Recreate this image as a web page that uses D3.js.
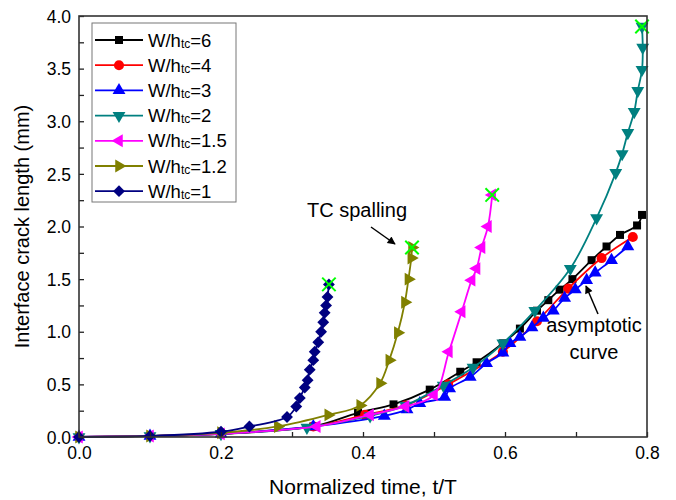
<!DOCTYPE html>
<html>
<head>
<meta charset="utf-8">
<script src="https://d3js.org/d3.v7.min.js"></script>
<style>
  body { margin: 0; background: #fff; }
  text { font-family: "Liberation Sans", Arial, sans-serif; fill: #000; }
</style>
</head>
<body>
<div id="chart"></div>
<script>

// data (t/T, crack length in mm)
var legendLabels = ["6", "4", "3", "2", "1.5", "1.2", "1"];

var timeW6  = [0, 0.1, 0.2, 0.33, 0.393, 0.443, 0.494, 0.537, 0.56, 0.597, 0.621, 0.645, 0.661, 0.677, 0.695, 0.722, 0.743, 0.762, 0.786, 0.793];
var crackW6 = [0, 0.01, 0.03, 0.1, 0.23, 0.31, 0.45, 0.62, 0.71, 0.89, 1.03, 1.2, 1.3, 1.4, 1.5, 1.68, 1.81, 1.92, 2.01, 2.11];

var timeW4  = [0, 0.1, 0.2, 0.33, 0.403, 0.46, 0.52, 0.597, 0.645, 0.689, 0.736, 0.78];
var crackW4 = [0, 0.01, 0.03, 0.1, 0.21, 0.3, 0.5, 0.81, 1.1, 1.41, 1.7, 1.9];

var timeW3  = [0, 0.1, 0.2, 0.33, 0.43, 0.462, 0.48, 0.515, 0.522, 0.551, 0.574, 0.597, 0.607, 0.621, 0.638, 0.654, 0.668, 0.684, 0.699, 0.715, 0.727, 0.75, 0.773];
var crackW3 = [0, 0.01, 0.03, 0.1, 0.2, 0.26, 0.32, 0.38, 0.46, 0.57, 0.7, 0.8, 0.89, 0.95, 1.04, 1.13, 1.2, 1.32, 1.4, 1.49, 1.56, 1.68, 1.81];

var timeW2  = [0, 0.1, 0.2, 0.321, 0.41, 0.46, 0.513, 0.555, 0.597, 0.642, 0.692, 0.729, 0.756, 0.765, 0.773, 0.782, 0.787, 0.793, 0.794, 0.793];
var crackW2 = [0, 0.01, 0.03, 0.09, 0.2, 0.3, 0.49, 0.66, 0.89, 1.2, 1.6, 2.08, 2.51, 2.69, 2.89, 3.09, 3.29, 3.49, 3.7, 3.9];

var timeW15  = [0, 0.1, 0.2, 0.335, 0.41, 0.46, 0.5, 0.521, 0.539, 0.553, 0.56, 0.567, 0.576, 0.582];
var crackW15 = [0, 0.01, 0.03, 0.1, 0.21, 0.29, 0.4, 0.81, 1.19, 1.49, 1.6, 1.8, 2.0, 2.3];

var timeW12  = [0, 0.1, 0.2, 0.28, 0.351, 0.396, 0.424, 0.437, 0.449, 0.459, 0.464, 0.468, 0.469];
var crackW12 = [0, 0.01, 0.04, 0.1, 0.21, 0.3, 0.51, 0.73, 0.99, 1.28, 1.5, 1.7, 1.8];

var timeW1  = [0, 0.1, 0.2, 0.24, 0.293, 0.306, 0.311, 0.318, 0.322, 0.325, 0.33, 0.332, 0.337, 0.341, 0.344, 0.346, 0.348, 0.35, 0.352];
var crackW1 = [0, 0.01, 0.05, 0.1, 0.19, 0.29, 0.37, 0.47, 0.54, 0.64, 0.73, 0.81, 0.9, 1.0, 1.09, 1.18, 1.25, 1.33, 1.45];

// spalling points (green crosses)
var spallTime  = [0.352, 0.469, 0.582, 0.793];
var spallCrack = [1.45, 1.8, 2.3, 3.9];

var xTicks = [0, 0.1, 0.2, 0.3, 0.4, 0.5, 0.6, 0.7, 0.8];
var yTicks = [0, 0.25, 0.5, 0.75, 1, 1.25, 1.5, 1.75, 2, 2.25, 2.5, 2.75, 3, 3.25, 3.5, 3.75, 4];

var svgWidth = 676;
var svgHeight = 500;

var margin = { top: 16, right: 29, bottom: 63, left: 79 };
var width = svgWidth - margin.left - margin.right;
var height = svgHeight - margin.top - margin.bottom;

var svg = d3.select("#chart")
  .append("svg")
  .attr("width", svgWidth)
  .attr("height", svgHeight);

svg.append("defs").append("marker")
  .attr("id", "arrow")
  .attr("viewBox", "0 0 10 10")
  .attr("refX", 9)
  .attr("refY", 5)
  .attr("markerWidth", 10)
  .attr("markerHeight", 8)
  .attr("markerUnits", "userSpaceOnUse")
  .attr("orient", "auto")
  .append("path")
  .attr("d", "M0,0 L10,5 L0,10 Z")
  .attr("fill", "#000");

var chartGroup = svg.append("g")
  .attr("transform", `translate(${margin.left}, ${margin.top})`);

var xScale = d3.scaleLinear().domain([0, 0.8]).range([0, width]);
var yScale = d3.scaleLinear().domain([0, 4]).range([height, 0]);

// series setup
var series = [
  { t: timeW6,  c: crackW6,  color: "#000000", shape: d3.symbolSquare,   size: 64, rot: 0 },
  { t: timeW4,  c: crackW4,  color: "#ff0000", shape: d3.symbolCircle,   size: 80, rot: 0 },
  { t: timeW3,  c: crackW3,  color: "#0000ff", shape: d3.symbolTriangle, size: 72, rot: 0 },
  { t: timeW2,  c: crackW2,  color: "#008080", shape: d3.symbolTriangle, size: 72, rot: 180 },
  { t: timeW15, c: crackW15, color: "#ff00ff", shape: d3.symbolTriangle, size: 72, rot: -90 },
  { t: timeW12, c: crackW12, color: "#808000", shape: d3.symbolTriangle, size: 72, rot: 90 },
  { t: timeW1,  c: crackW1,  color: "#000080", shape: d3.symbolSquare,   size: 70, rot: 45 }
];

var line = d3.line()
  .x(d => xScale(d[0]))
  .y(d => yScale(d[1]))
  .curve(d3.curveCatmullRom.alpha(0.5));

series.forEach(function(s, i) {
  var pts = s.t.map((t, j) => [t, s.c[j]]);
  var g = chartGroup.append("g");

  g.append("path")
    .datum(pts)
    .attr("d", line)
    .attr("fill", "none")
    .attr("stroke", s.color)
    .attr("stroke-width", 1.8);

  g.selectAll("path.mk")
    .data(pts)
    .enter()
    .append("path")
    .classed("mk", true)
    .attr("d", d3.symbol().type(s.shape).size(s.size))
    .attr("transform", d => `translate(${xScale(d[0])},${yScale(d[1])}) rotate(${s.rot})`)
    .attr("fill", s.color);
});

// spalling crosses
chartGroup.selectAll("path.spall")
  .data(spallTime)
  .enter()
  .append("path")
  .classed("spall", true)
  .attr("d", d3.symbol().type(d3.symbolX).size(120))
  .attr("transform", (d, i) => `translate(${xScale(d)},${yScale(spallCrack[i])})`)
  .attr("fill", "none")
  .attr("stroke", "#00ff00")
  .attr("stroke-width", 2);

// axes, ticks inside
var xAxis = d3.axisBottom(xScale).tickValues(xTicks).tickSizeInner(-5).tickSizeOuter(0)
  .tickFormat(d => (Math.round(d * 10) % 2 === 0) ? d3.format(".1f")(d) : "");
var yAxis = d3.axisLeft(yScale).tickValues(yTicks).tickSizeInner(-5).tickSizeOuter(0)
  .tickFormat(d => (Math.round(d * 100) % 50 === 0) ? d3.format(".1f")(d) : "");

var gx = chartGroup.append("g")
  .attr("transform", `translate(0, ${height})`)
  .call(xAxis);
var gy = chartGroup.append("g")
  .call(yAxis);

[gx, gy].forEach(function(g) {
  g.select(".domain").remove();
  g.selectAll(".tick line").attr("stroke", "#222").attr("stroke-width", 1.3);
  g.selectAll(".tick text")
    .attr("font-family", "Liberation Sans, Arial, sans-serif")
    .attr("font-size", 17.5)
    .attr("fill", "#000");
});
gx.selectAll(".tick text").attr("y", 10);
gy.selectAll(".tick text").attr("x", -8).attr("dy", "0.35em");

// frame
chartGroup.append("rect")
  .attr("width", width)
  .attr("height", height)
  .attr("fill", "none")
  .attr("stroke", "#333")
  .attr("stroke-width", 1.6);

// axis titles
chartGroup.append("text")
  .attr("x", width / 2)
  .attr("y", height + 57)
  .attr("text-anchor", "middle")
  .attr("font-size", 21)
  .text("Normalized time, t/T");

svg.append("text")
  .attr("transform", `translate(29, ${margin.top + height / 2}) rotate(-90)`)
  .attr("text-anchor", "middle")
  .attr("font-size", 20)
  .text("Interface crack length (mm)");

// annotations
chartGroup.append("text")
  .attr("x", 228)
  .attr("y", 201)
  .attr("font-size", 20)
  .text("TC spalling");
chartGroup.append("line")
  .attr("x1", 292).attr("y1", 211)
  .attr("x2", 316).attr("y2", 228)
  .attr("stroke", "#000")
  .attr("stroke-width", 1.5)
  .attr("marker-end", "url(#arrow)");

chartGroup.append("text")
  .attr("x", 515)
  .attr("y", 316)
  .attr("text-anchor", "middle")
  .attr("font-size", 20)
  .text("asymptotic");
chartGroup.append("text")
  .attr("x", 515)
  .attr("y", 343)
  .attr("text-anchor", "middle")
  .attr("font-size", 20)
  .text("curve");
chartGroup.append("line")
  .attr("x1", 519).attr("y1", 298)
  .attr("x2", 507).attr("y2", 270)
  .attr("stroke", "#000")
  .attr("stroke-width", 1.5)
  .attr("marker-end", "url(#arrow)");

// legend
var legend = svg.append("g");
legend.append("rect")
  .attr("x", 92)
  .attr("y", 23)
  .attr("width", 144)
  .attr("height", 179)
  .attr("fill", "#fff")
  .attr("stroke", "#777")
  .attr("stroke-width", 1);

series.forEach(function(s, i) {
  var y = 40 + i * 25.2;
  legend.append("line")
    .attr("x1", 95).attr("x2", 143)
    .attr("y1", y).attr("y2", y)
    .attr("stroke", s.color)
    .attr("stroke-width", 1.8);
  legend.append("path")
    .attr("d", d3.symbol().type(s.shape).size(s.size))
    .attr("transform", `translate(119,${y}) rotate(${s.rot})`)
    .attr("fill", s.color);
  var t = legend.append("text")
    .attr("x", 148)
    .attr("y", y + 6.5)
    .attr("font-size", 18.5);
  t.append("tspan").text("W/h");
  t.append("tspan").attr("font-size", 12).attr("dy", 1).text("tc");
  t.append("tspan").attr("dy", -1).text("=" + legendLabels[i]);
});

</script>
</body>
</html>
